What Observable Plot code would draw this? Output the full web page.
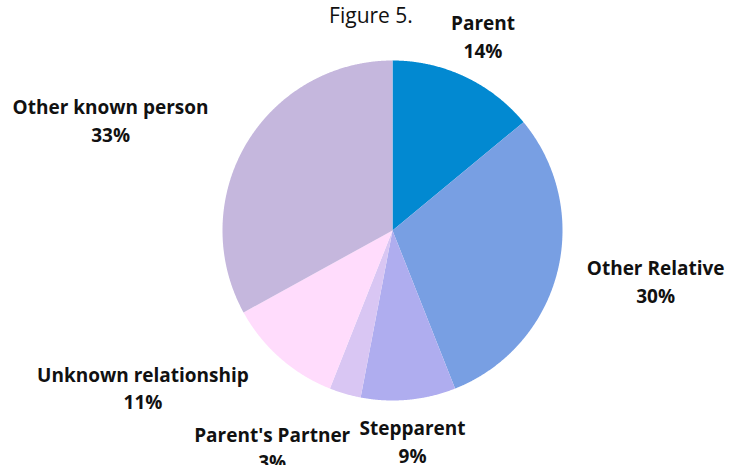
<!DOCTYPE html>
<html>
<head>
<meta charset="utf-8">
<script src="https://cdn.jsdelivr.net/npm/d3@7"></script>
<script src="https://cdn.jsdelivr.net/npm/@observablehq/plot@0.6"></script>
<style>
  html, body { margin: 0; padding: 0; background: #fff; }
  svg text { font-family: "Open Sans", sans-serif; }
</style>
</head>
<body>
<div id="chart"></div>
<script>
const title = "Figure 5.";
const categories = ["Parent", "Other Relative", "Stepparent", "Parent's Partner", "Unknown relationship", "Other known person"];
const shares = [14, 30, 9, 3, 11, 33];
const colors = ["#0289D1", "#789FE3", "#AFADEF", "#D9C6F3", "#FFDCFC", "#C5B7DD"];

const R = 170;
const pie = d3.pie().sort(null).value(d => d.share);
const rows = categories.map((c, i) => ({name: c, share: shares[i], color: colors[i]}));
const arcs = pie(rows);

// polygon points for each slice (angles clockwise from 12 o'clock)
const pts = [];
arcs.forEach(a => {
  pts.push({name: a.data.name, x: 0, y: 0});
  const n = Math.max(2, Math.ceil((a.endAngle - a.startAngle) / 0.005));
  for (let k = 0; k <= n; k++) {
    const t = a.startAngle + (a.endAngle - a.startAngle) * k / n;
    pts.push({name: a.data.name, x: R * Math.sin(t), y: -R * Math.cos(t)});
  }
});

function labelAt(i, rf, dx, dy) {
  const a = arcs[i];
  const m = (a.startAngle + a.endAngle) / 2;
  const d = [{x: rf * R * Math.sin(m), y: -rf * R * Math.cos(m), t: `${a.data.name}\n${a.data.share}%`}];
  return Plot.text(d, {x: "x", y: "y", text: "t", dx, dy, fontSize: 19, fontWeight: "bold", fill: "#111", lineHeight: 1.45});
}

const chart = Plot.plot({
  width: 741,
  height: 465,
  margin: 0,
  x: {domain: [-392, 349], range: [0, 741], axis: null},
  y: {domain: [-230, 235], range: [0, 465], axis: null},
  color: {domain: categories, range: colors},
  marks: [
    Plot.line(pts, {x: "x", y: "y", z: "name", fill: "name", stroke: null, curve: "linear-closed"}),
    Plot.text([title], {frameAnchor: "top", dy: 8, fontSize: 21, fill: "#111"}),
    labelAt(0, 1.25, 0, -3),
    labelAt(1, 1.58, 3, -17),
    labelAt(2, 1.25, 0, -2),
    labelAt(3, 1.25, -61, 12),
    labelAt(4, 1.25, -109, -3),
    labelAt(5, 1.25, -99, -3)
  ]
});
document.getElementById("chart").appendChild(chart);
</script>
</body>
</html>
